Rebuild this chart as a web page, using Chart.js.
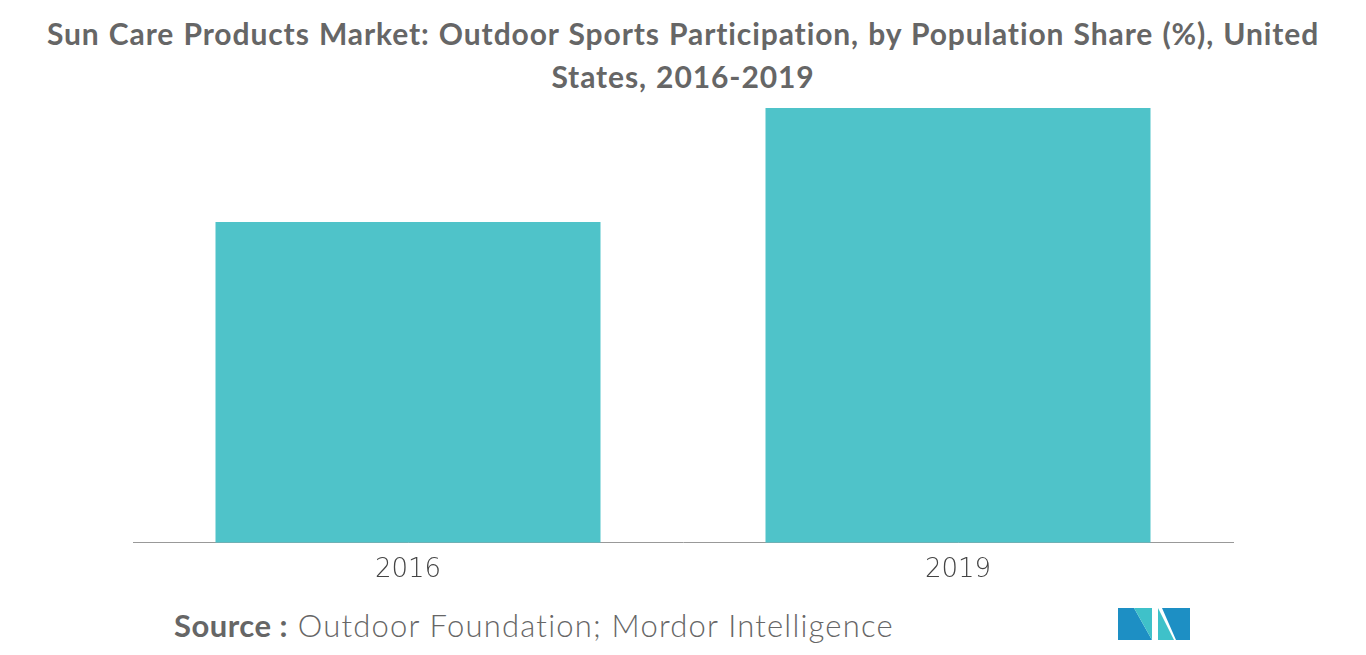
<!DOCTYPE html>
<html>
<head>
<meta charset="utf-8">
<script src="https://cdn.jsdelivr.net/npm/chart.js@4"></script>
<style>
  body { margin: 0; background: #fff; font-family: Lato, "Open Sans", sans-serif; }
  #title { position: absolute; top: 12px; left: 5px; width: 1356px; text-align: center; color: #666; font-size: 30px; font-weight: bold; line-height: 43px; letter-spacing: 0.9px; word-spacing: 1px; }
  #wrap { position: absolute; left: 0; top: 0; width: 1366px; height: 600px; }
  #source { position: absolute; left: 174px; top: 606px; font-size: 31px; color: #666; font-weight: 300; letter-spacing: 1.2px; }
  #source b { color: #666; font-weight: bold; letter-spacing: 0.5px; }
  #logo { position: absolute; left: 1118px; top: 604px; }
</style>
</head>
<body>
<div id="title">Sun Care Products Market: Outdoor Sports Participation, by Population Share (%), United States, 2016-2019</div>
<div id="wrap"><canvas id="chart"></canvas></div>
<div id="source"><b>Source :</b> Outdoor Foundation; Mordor Intelligence</div>
<svg id="logo" width="74" height="36" viewBox="0 0 74 36">
  <polygon points="0,36 0,4 16,4 34,36" fill="#1d8fc4"/>
  <polygon points="16,4 34,36 34,4" fill="#3fc1c9"/>
  <polygon points="40,36 40,4 56,36" fill="#3fc1c9"/>
  <polygon points="44,4 72,4 72,36 58,36" fill="#1d8fc4"/>
</svg>
<script>
const categories = ['2016', '2019'];
const shareValues = [36.9, 50.0];

new Chart(document.getElementById('chart'), {
    type: 'bar',
    data: {
        labels: categories,
        datasets: [{
            data: shareValues,
            backgroundColor: '#4fc3c9',
            categoryPercentage: 1,
            barPercentage: 0.7
        }]
    },
    options: {
        responsive: true,
        maintainAspectRatio: false,
        animation: false,
        layout: { padding: { left: 133, right: 133, top: 108, bottom: 10 } },
        plugins: { legend: { display: false }, tooltip: { enabled: false } },
        scales: {
            x: {
                grid: { display: false, drawTicks: true, tickLength: 8 },
                border: { color: '#999' },
                ticks: { color: '#444', font: { size: 26, family: 'DejaVu Sans', weight: '300' }, padding: 4 }
            },
            y: {
                display: false,
                min: 0,
                max: 50
            }
        }
    }
});
</script>
</body>
</html>
